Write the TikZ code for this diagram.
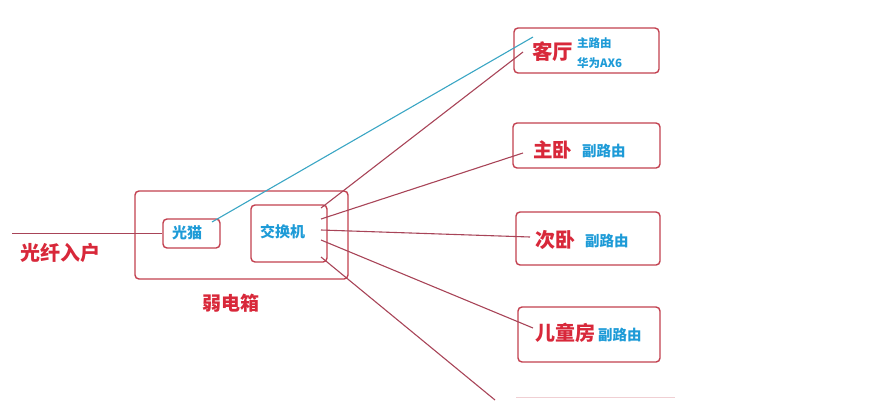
\documentclass[tikz,border=0pt]{standalone}
\usepackage{fontspec}
\newfontfamily\cjk{Noto Sans CJK SC}
\definecolor{tred}{HTML}{D8283A}
\definecolor{bred}{HTML}{C2404F}
\definecolor{lred}{HTML}{A84458}
\definecolor{tblue}{HTML}{1E9BD7}
\definecolor{lblue}{HTML}{3AA6C4}
\begin{document}
\begin{tikzpicture}[x=1pt,y=-1pt,
  box/.style={draw=bred, line width=1.4pt, rounded corners=4pt, inner sep=0pt},
  redt/.style={text=tred, inner sep=0pt, anchor=west, font=\cjk\bfseries\fontsize{#1}{#1}\selectfont},
  bluet/.style={text=tblue, inner sep=0pt, anchor=west, font=\cjk\bfseries\fontsize{#1}{#1}\selectfont},
  conn/.style={draw=lred, line width=1.1pt},
  bconn/.style={draw=lblue, line width=1.1pt}]
\useasboundingbox (0,0) rectangle (889,400);
\clip (0,0) rectangle (889,400);
% boxes
\node[box, minimum width=213pt, minimum height=88pt] (wbox) at (241.5,235) {};
\node[box, minimum width=57pt, minimum height=29pt] (modem) at (191.5,233.5) {};
\node[box, minimum width=76pt, minimum height=57pt] (sw) at (289,233.5) {};
\node[box, minimum width=145pt, minimum height=45pt] (kt) at (586.5,50.5) {};
\node[box, minimum width=147pt, minimum height=45pt] (zw) at (586.5,145.5) {};
\node[box, minimum width=144pt, minimum height=53pt] (cw) at (588,238.5) {};
\node[box, minimum width=142pt, minimum height=55pt] (et) at (589,334.5) {};
\draw[draw=bred!25, line width=1pt] (516,397) -- (675,397);
% texts
\node[bluet=15] (tmodem) at (172,233) {光猫};
\node[bluet=15] (tsw) at (260,232) {交换机};
\node[redt=20] (tfiber) at (20,253) {光纤入户};
\node[redt=19] (twbox) at (202,303) {弱电箱};
\node[redt=20.5] (tkt) at (532,52) {客厅};
\node[bluet=11.5] (tkt1) at (577,43) {主路由};
\node[bluet=11.5] (tkt2) at (577,63) {华为AX6};
\node[redt=19.5] (tzw) at (533,150) {主卧};
\node[bluet=14.5] (tzw1) at (582,151) {副路由};
\node[redt=20] (tcw) at (535,240) {次卧};
\node[bluet=14.5] (tcw1) at (585,241) {副路由};
\node[redt=20] (tet) at (535,333) {儿童房};
\node[bluet=14.5] (tet1) at (598,335) {副路由};
% connector endpoints
\coordinate (fin) at (modem.west -| 12,0);
\coordinate (mo) at (212,222);
\coordinate (ko) at (533,37);
\coordinate (s1) at (321,208);
\coordinate (s2) at (321,219);
\coordinate (s3) at (321,230);
\coordinate (s4) at (321,240);
\coordinate (s5) at (321,257);
\coordinate (e1) at (523,52);
\coordinate (e2) at (523,153);
\coordinate (e3) at (530,237);
\coordinate (e4) at (533,328);
\coordinate (e5) at (495,400);
% connectors
\draw[conn] (fin) -- (modem.west);
\draw[bconn] (mo) -- (ko);
\draw[conn] (s1) -- (e1);
\draw[conn] (s2) -- (e2);
\draw[conn] (s3) -- (e3);
\draw[conn] (s4) -- (e4);
\draw[conn] (s5) -- (e5);
\end{tikzpicture}
\end{document}
